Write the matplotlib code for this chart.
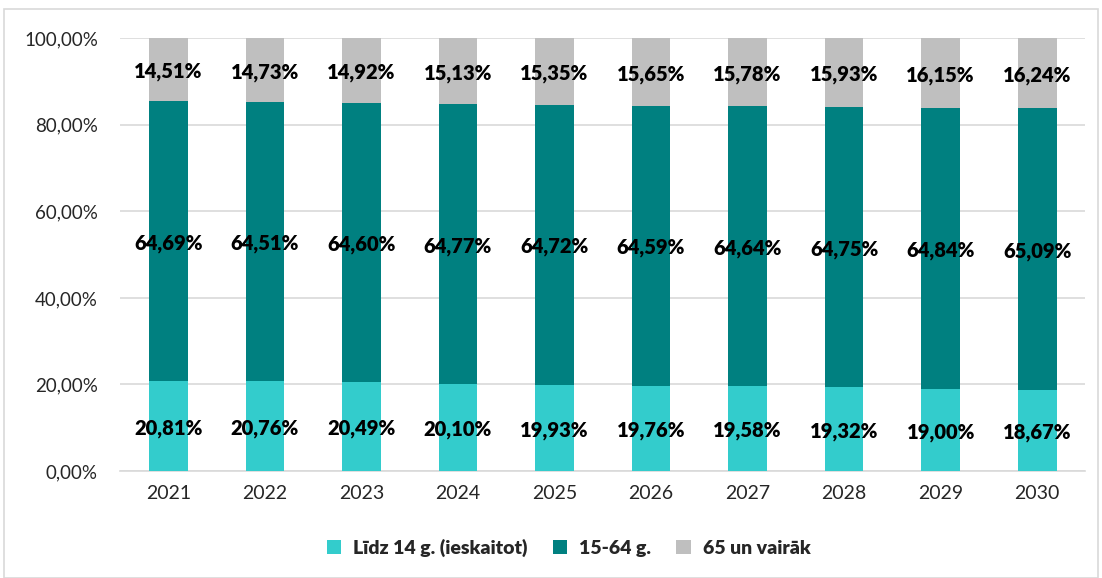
import matplotlib.pyplot as plt
import numpy as np
from matplotlib.patches import Rectangle

plt.rcParams['font.family'] = ['Lato', 'DejaVu Sans']

# Data
years = ['2021', '2022', '2023', '2024', '2025', '2026', '2027', '2028', '2029', '2030']
age_0_14 = [20.81, 20.76, 20.49, 20.10, 19.93, 19.76, 19.58, 19.32, 19.00, 18.67]
age_15_64 = [64.69, 64.51, 64.60, 64.77, 64.72, 64.59, 64.64, 64.75, 64.84, 65.09]
age_65 = [14.51, 14.73, 14.92, 15.13, 15.35, 15.65, 15.78, 15.93, 16.15, 16.24]
series_names = ['Līdz 14 g. (ieskaitot)', '15-64 g.', '65 un vairāk']
colors = ['#33CCCC', '#008080', '#BFBFBF']
y_ticks = [0, 20, 40, 60, 80, 100]


def fmt_pct(v):
    return f"{v:.2f}".replace('.', ',') + '%'


fig = plt.figure(figsize=(11.02, 5.78), dpi=100)
ax = fig.add_axes([0.109, 0.185, 0.876, 0.749])

# Light frame around the chart area
fig.patches.append(Rectangle((0.004, 0.0), 0.992, 0.984, transform=fig.transFigure,
                             fill=False, edgecolor='#D9D9D9', linewidth=1.2))

x = np.arange(len(years))
bottom = np.zeros(len(years))
for vals, name, col in zip([age_0_14, age_15_64, age_65], series_names, colors):
    vals = np.array(vals)
    ax.bar(x, vals, width=0.4, bottom=bottom, color=col, label=name, zorder=3)
    for xi, b, v in zip(x, bottom, vals):
        ax.text(xi, b + v / 2 - 0.5, fmt_pct(v), ha='center', va='center',
                fontsize=14.5, fontweight='heavy', color='black', zorder=4)
    bottom += vals

ax.set_xlim(-0.5, len(years) - 0.5)
ax.set_ylim(0, 100)
ax.set_yticks(y_ticks)
ax.set_yticklabels([fmt_pct(t) for t in y_ticks], fontsize=13.5, color='#262626')
ax.set_xticks(x)
ax.set_xticklabels(years, fontsize=14, color='#262626')
ax.tick_params(axis='y', length=0, pad=16)
ax.tick_params(axis='x', length=0, pad=10)
ax.grid(axis='y', color='#D9D9D9', linewidth=1.2, zorder=0)
for s in ['top', 'right', 'left']:
    ax.spines[s].set_visible(False)
ax.spines['bottom'].set_color('#D9D9D9')
ax.spines['bottom'].set_linewidth(1.2)

leg = fig.legend(loc='center', bbox_to_anchor=(0.516, 0.052), ncol=3, frameon=False,
                 prop={'size': 14, 'weight': 'heavy'}, handlelength=0.75, handleheight=0.75,
                 columnspacing=1.3, handletextpad=0.6)
for t in leg.get_texts():
    t.set_color('#262626')

fig.savefig('out.png', dpi=100)
